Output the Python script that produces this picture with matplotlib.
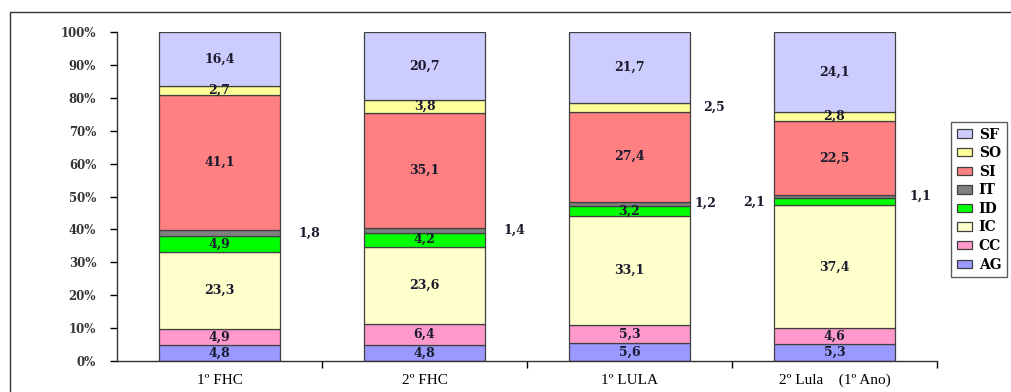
import matplotlib
matplotlib.use("Agg")
import matplotlib.pyplot as plt
import numpy as np
from matplotlib.patches import Rectangle

# dados (de baixo para cima)
periodos = ["1º FHC", "2º FHC", "1º LULA", "2º Lula    (1º Ano)"]
setores = ["AG", "CC", "IC", "ID", "IT", "SI", "SO", "SF"]
AG = [4.8, 4.8, 5.6, 5.3]
CC = [4.9, 6.4, 5.3, 4.6]
IC = [23.3, 23.6, 33.1, 37.4]
ID = [4.9, 4.2, 3.2, 2.1]
IT = [1.8, 1.4, 1.2, 1.1]
SI = [41.1, 35.1, 27.4, 22.5]
SO = [2.7, 3.8, 2.5, 2.8]
SF = [16.4, 20.7, 21.7, 24.1]
series = [AG, CC, IC, ID, IT, SI, SO, SF]
cores = ["#9999FF", "#FF99CC", "#FFFFCC", "#00FF00", "#808080",
         "#FF8080", "#FFFF99", "#CCCCFF"]

# rótulos fora da barra: (série, período) -> deslocamento horizontal
fora = {(4, 0): 0.44, (4, 1): 0.44, (4, 2): 0.37, (6, 2): 0.41,
        (4, 3): 0.42, (3, 3): -0.39}

plt.rcParams['font.family'] = ['DejaVu Serif']

fig = plt.figure(figsize=(10.12, 3.92), dpi=100)
ax = fig.add_axes([117 / 1012, 1 - 361 / 392, 820 / 1012, 329 / 392])

x = np.arange(len(periodos))
base = np.zeros(len(periodos))
for i, (vals, cor) in enumerate(zip(series, cores)):
    vals = np.array(vals)
    ax.bar(x, vals, 0.59, bottom=base, color=cor, edgecolor="#404040",
           linewidth=0.9, label=setores[i], zorder=2)
    for j in range(len(periodos)):
        txt = f"{vals[j]:.1f}".replace(".", ",")
        cy = base[j] + vals[j] / 2
        dx = fora.get((i, j), 0)
        ax.text(x[j] + dx, cy, txt, ha="center", va="center",
                fontsize=9, fontweight="bold", color="#1a1a2e")
    base += vals

ax.set_xlim(-0.5, 3.5)
ax.set_ylim(0, 100)
ax.set_yticks(np.arange(0, 101, 10))
ax.set_yticklabels([f"{v}%" for v in range(0, 101, 10)], fontsize=8.5,
                   fontweight="bold", color="#333333")
ax.tick_params(axis="y", length=5, width=1, pad=10)
ax.set_xticks(x)
ax.set_xticklabels(periodos, fontsize=11, family="Liberation Serif")
ax.set_xticks([0.5, 1.5, 2.5, 3.5], minor=True)
ax.tick_params(axis="x", which="major", length=0, pad=9)
ax.tick_params(axis="x", which="minor", length=5, width=1)
for s in ["top", "right"]:
    ax.spines[s].set_visible(False)
for s in ["left", "bottom"]:
    ax.spines[s].set_color("#333333")
    ax.spines[s].set_linewidth(1)

h, l = ax.get_legend_handles_labels()
leg = fig.legend(h[::-1], l[::-1], loc="upper left",
                 bbox_to_anchor=(951 / 1012, 1 - 122 / 392),
                 frameon=True, fancybox=False, edgecolor="#333333",
                 prop={"size": 10, "weight": "bold"}, handlelength=1.1,
                 handleheight=0.55, labelspacing=0.33, borderpad=0.4,
                 handletextpad=0.5, borderaxespad=0)
leg.get_frame().set_linewidth(1)

# moldura da figura
fig.patches.append(Rectangle((10 / 1012, -0.1), 1.2, 1 - 12 / 392 + 0.1,
                             transform=fig.transFigure, fill=False,
                             edgecolor="#333333", linewidth=1))

fig.savefig("out.png", dpi=100)
